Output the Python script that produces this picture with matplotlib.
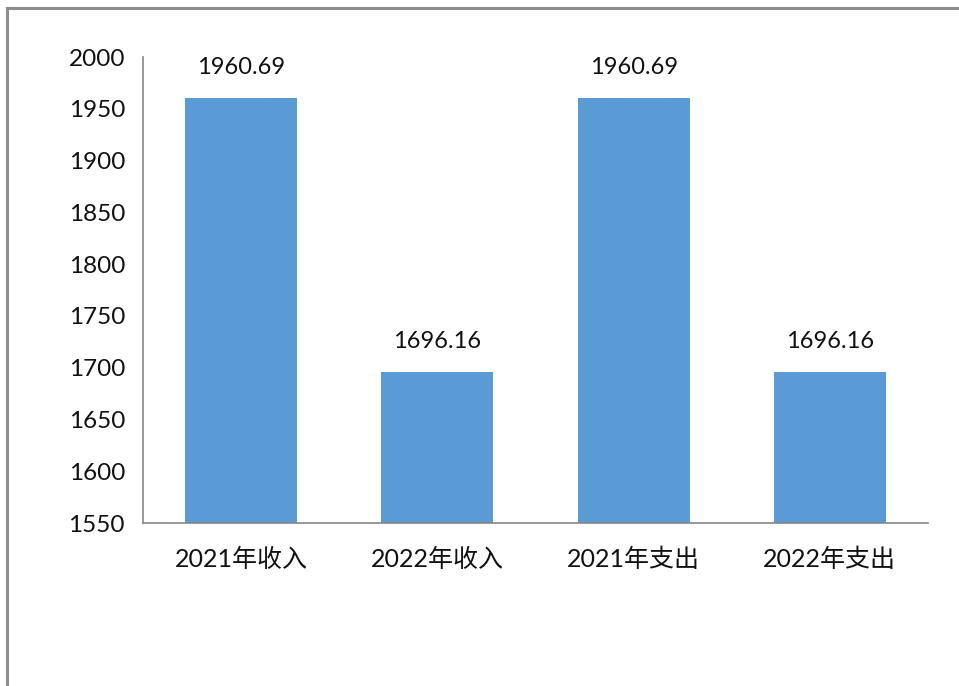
import matplotlib.pyplot as plt
from matplotlib.lines import Line2D

plt.rcParams['font.family'] = ['Lato', 'Noto Sans CJK SC', 'DejaVu Sans']

# 数据
categories = ["2021年收入", "2022年收入", "2021年支出", "2022年支出"]
values = [1960.69, 1696.16, 1960.69, 1696.16]
yticks = [1550, 1600, 1650, 1700, 1750, 1800, 1850, 1900, 1950, 2000]

W, H = 959, 686
fig = plt.figure(figsize=(W / 100, H / 100), dpi=100)
ax = fig.add_axes([143 / W, 1 - 523 / H, (928 - 143) / W, (523 - 57) / H])

bars = ax.bar(range(len(categories)), values, width=0.57, color='#5B9BD5', zorder=2)

for i, v in enumerate(values):
    ax.annotate(f"{v:.2f}", xy=(i, v), xytext=(0, 20), textcoords='offset pixels',
                ha='center', va='bottom', fontsize=17, color='#111111')

ax.set_xlim(-0.5, len(categories) - 0.5)
ax.set_ylim(1550, 2000)
ax.set_yticks(yticks)
ax.set_xticks(range(len(categories)))
ax.set_xticklabels(categories, fontsize=18, color='#111111')
ax.tick_params(axis='y', length=0, pad=13, labelsize=17.5, labelcolor='#111111')
ax.tick_params(axis='x', length=0, pad=18)

for s in ['top', 'right']:
    ax.spines[s].set_visible(False)
for s in ['left', 'bottom']:
    ax.spines[s].set_color('#868686')
    ax.spines[s].set_linewidth(1.2)

# 外框
fig.add_artist(Line2D([7 / W, 1.0], [1 - 8 / H, 1 - 8 / H], color='#8c8c8c', lw=2.2,
                      transform=fig.transFigure))
fig.add_artist(Line2D([7 / W, 7 / W], [0, 1 - 8 / H], color='#8c8c8c', lw=2.2,
                      transform=fig.transFigure))

fig.savefig("out.png", dpi=100)
